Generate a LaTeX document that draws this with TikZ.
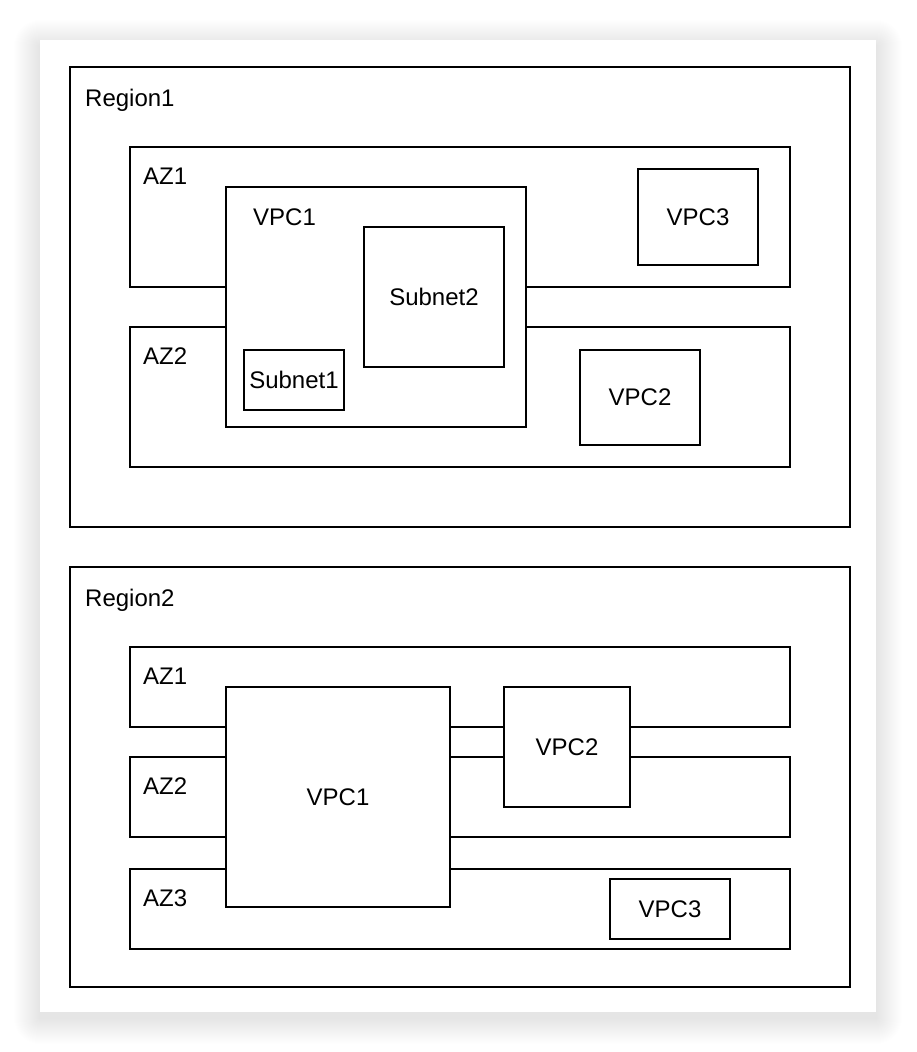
\documentclass[tikz,border=0pt]{standalone}
\usepackage{fontspec}
\setmainfont{Liberation Sans}

\begin{document}
\begin{tikzpicture}[x=1pt, y=-1pt,
box/.style={draw, line width=2pt, rectangle, inner sep=0pt, font=\fontsize{24}{28}\selectfont},
filled/.style={box, fill=white},
tag/.style={anchor=base west, inner sep=0pt, font=\fontsize{24}{28}\selectfont}]
\useasboundingbox (0,0) rectangle (916,1052);
\foreach \i in {1,...,26}
  \fill[black, opacity=0.005, rounded corners=\i pt] (40-\i,46-\i) rectangle (876+\i,1018+\i);
\fill[white] (40,40) rectangle (876,1012);
\begin{scope}
\node[box, minimum width=780, minimum height=460] (reg1) at (460,297) {};
\node[tag] (reg1tag) at (85,106) {Region1};
\node[box, minimum width=660, minimum height=140] (reg1az1) at (460,217) {};
\node[tag] (reg1az1tag) at (143,184) {AZ1};
\node[box, minimum width=660, minimum height=140] (reg1az2) at (460,397) {};
\node[tag] (reg1az2tag) at (143,364) {AZ2};
\node[filled, minimum width=300, minimum height=240] (reg1vpc1) at (376,307) {};
\node[tag] (reg1vpc1tag) at (253,225) {VPC1};
\node[filled, minimum width=140, minimum height=140] (subnet2) at (434,297) {Subnet2};
\node[filled, minimum width=100, minimum height=60] (subnet1) at (294,380) {Subnet1};
\node[filled, minimum width=120, minimum height=96] (reg1vpc3) at (698,217) {VPC3};
\node[filled, minimum width=120, minimum height=95] (reg1vpc2) at (640,397) {VPC2};
\end{scope}
\begin{scope}
\node[box, minimum width=780, minimum height=420] (reg2) at (460,777) {};
\node[tag] (reg2tag) at (85,606) {Region2};
\node[box, minimum width=660, minimum height=80] (reg2az1) at (460,687) {};
\node[tag] (reg2az1tag) at (143,684) {AZ1};
\node[box, minimum width=660, minimum height=80] (reg2az2) at (460,797) {};
\node[tag] (reg2az2tag) at (143,794) {AZ2};
\node[box, minimum width=660, minimum height=80] (reg2az3) at (460,909) {};
\node[tag] (reg2az3tag) at (143,906) {AZ3};
\node[filled, minimum width=224, minimum height=220] (reg2vpc1) at (338,797) {VPC1};
\node[filled, minimum width=126, minimum height=120] (reg2vpc2) at (567,747) {VPC2};
\node[filled, minimum width=120, minimum height=60] (reg2vpc3) at (670,909) {VPC3};
\end{scope}
\end{tikzpicture}
\end{document}
